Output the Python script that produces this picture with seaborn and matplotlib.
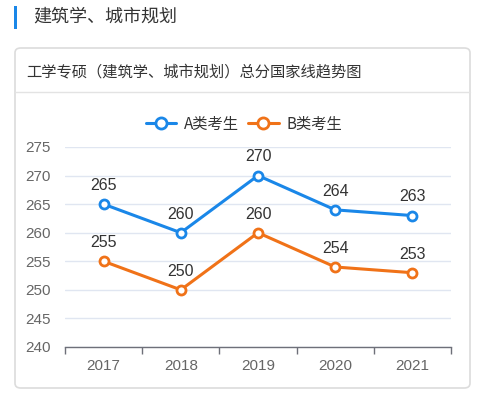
import matplotlib
matplotlib.use("Agg")
import matplotlib.pyplot as plt
from matplotlib.patches import FancyBboxPatch, Rectangle
from matplotlib.lines import Line2D
import seaborn as sns
import pandas as pd

years = ["2017", "2018", "2019", "2020", "2021"]
a_scores = [265, 260, 270, 264, 263]
b_scores = [255, 250, 260, 254, 253]
series_names = ["A类考生", "B类考生"]
y_ticks = [240, 245, 250, 255, 260, 265, 270, 275]
heading = "建筑学、城市规划"
card_title = "工学专硕（建筑学、城市规划）总分国家线趋势图"

colors = ["#1a87e8", "#f07218"]
num_font = ['Liberation Sans', 'DejaVu Sans']

sns.set_theme(style="white")
plt.rcParams['font.family'] = ['Noto Sans CJK SC', 'DejaVu Sans']

W, H = 478, 393
fig = plt.figure(figsize=(W / 100, H / 100), dpi=100)
fig.patch.set_facecolor("white")

def fx(x): return x / W
def fy(y): return 1 - y / H

# heading
fig.patches.append(Rectangle((fx(14), fy(29)), 3 / W, 23 / H, transform=fig.transFigure,
                             facecolor="#1a87e8", edgecolor="none", zorder=-2))
fig.text(fx(33), fy(17), heading, fontsize=13, color="#333333", va="center", ha="left")

# card
card = FancyBboxPatch((fx(15), fy(388)), (470 - 15) / W, (388 - 48) / H,
                      boxstyle="round,pad=0,rounding_size=0.012", transform=fig.transFigure,
                      facecolor="white", edgecolor="#dcdcdc", linewidth=1.2, zorder=-2)
fig.patches.append(card)
fig.text(fx(26), fy(72), card_title, fontsize=11, color="#333333", va="center", ha="left")
fig.lines.append(Line2D([fx(15), fx(470)], [fy(92), fy(92)], transform=fig.transFigure,
                        color="#e3e3e3", linewidth=1, zorder=-1))

df = pd.DataFrame({
    "year": years * 2,
    "score": a_scores + b_scores,
    "group": [series_names[0]] * len(years) + [series_names[1]] * len(years),
})

ax = fig.add_axes([fx(65), fy(347), (451 - 65) / W, (347 - 147) / H])
ax.set_zorder(2)
sns.lineplot(data=df, x="year", y="score", hue="group", palette=colors, ax=ax,
             linewidth=2.2, marker="o", markersize=6.5, markerfacecolor="white",
             markeredgewidth=2, legend=False, zorder=3)
for line, c in zip(ax.lines, colors):
    line.set_markeredgecolor(c)
    line.set_clip_on(False)

for vals in (a_scores, b_scores):
    for i, v in enumerate(vals):
        ax.annotate(str(v), (i, v), xytext=(0, 8), textcoords="offset points",
                    ha="center", va="bottom", fontsize=11.5, color="#333333",
                    family=num_font)

ax.set_ylim(240, 275)
ax.set_xlim(-0.5, len(years) - 0.5)
ax.set_yticks(y_ticks)
ax.set_yticklabels([str(t) for t in y_ticks], fontsize=11, color="#666666",
                   family=num_font)
ax.set_xticks(range(len(years)))
ax.set_xticklabels(years, fontsize=11, color="#666666", family=num_font)
ax.set_xticks([i - 0.5 for i in range(len(years) + 1)], minor=True)
ax.tick_params(axis="x", which="major", bottom=False, length=0, pad=9)
ax.tick_params(axis="x", which="minor", bottom=True, length=5, width=1,
               color="#6e7079", direction="out")
ax.tick_params(axis="y", length=0, pad=10)
ax.set_xlabel("")
ax.set_ylabel("")
ax.grid(axis="y", color="#e0e6f1", linewidth=1)
ax.set_axisbelow(True)
for s in ("top", "right", "left"):
    ax.spines[s].set_visible(False)
ax.spines["bottom"].set_color("#6e7079")
ax.spines["bottom"].set_linewidth(1)
ax.set_facecolor("none")

handles = [Line2D([0], [0], color=c, linewidth=2.2, marker="o", markersize=8,
                  markerfacecolor="white", markeredgecolor=c, markeredgewidth=2)
           for c in colors]
fig.legend(handles, series_names, loc="center", bbox_to_anchor=(fx(244), fy(124)),
           ncol=2, frameon=False, fontsize=11, handlelength=2.0, columnspacing=0.6,
           handletextpad=0.5, labelcolor="#333333")

fig.savefig("out.png", dpi=100)
